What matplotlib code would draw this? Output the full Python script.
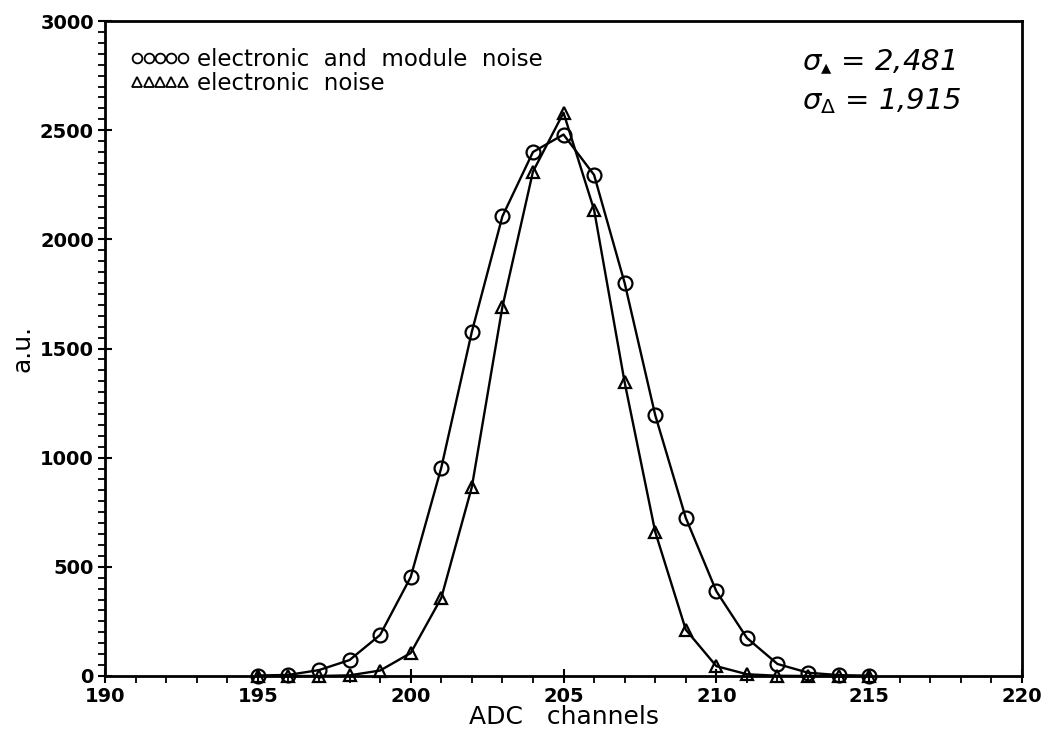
import numpy as np
import matplotlib
matplotlib.use('Agg')
import matplotlib.pyplot as plt
from matplotlib.lines import Line2D
from matplotlib.ticker import MultipleLocator

# data
channels = [195, 196, 197, 198, 199, 200, 201, 202, 203, 204, 205,
            206, 207, 208, 209, 210, 211, 212, 213, 214, 215]
module_noise = [2, 5, 27, 73, 188, 453, 953, 1576, 2105, 2400, 2480,
                2295, 1800, 1195, 724, 388, 174, 55, 15, 4, 1]
elec_noise = [0, 0, 0, 3, 25, 105, 357, 865, 1690, 2310, 2580,
              2135, 1345, 660, 212, 45, 8, 1, 0, 0, 0]
sigma_labels = [r'$\sigma_{\blacktriangle}$ = 2,481', r'$\sigma_{\Delta}$ = 1,915']

plt.rcParams['font.family'] = ['DejaVu Sans']

fig = plt.figure(figsize=(10.53, 7.40), dpi=100)
ax = fig.add_axes([0.0997, 0.0865, 0.8709, 0.8851])

ax.plot(channels, module_noise, color='black', lw=1.7, marker='o', ms=10,
        mfc='none', mec='black', mew=1.6, clip_on=False)
ax.plot(channels, elec_noise, color='black', lw=1.7, marker='^', ms=9,
        mfc='none', mec='black', mew=1.6, clip_on=False)

ax.set_xlim(190, 220)
ax.set_ylim(0, 3000)
ax.xaxis.set_major_locator(MultipleLocator(5))
ax.xaxis.set_minor_locator(MultipleLocator(1))
ax.yaxis.set_major_locator(MultipleLocator(500))
ax.yaxis.set_minor_locator(MultipleLocator(50))
ax.tick_params(which='major', direction='inout', length=10, width=1.5,
               labelsize=14, top=False, right=False)
ax.tick_params(axis='x', which='major', pad=3)
ax.tick_params(axis='y', which='major', pad=3)
ax.tick_params(which='minor', direction='out', length=5, width=1.3,
               top=False, right=False)
for lab in ax.get_xticklabels() + ax.get_yticklabels():
    lab.set_fontweight('bold')
for s in ax.spines.values():
    s.set_linewidth(2)

ax.set_xlabel('ADC   channels', fontsize=18, labelpad=-1)
ax.set_ylabel('a.u.', fontsize=18, labelpad=4)

h1 = Line2D([], [], ls='none', marker='o', ms=7, mfc='none', mec='black', mew=1.3)
h2 = Line2D([], [], ls='none', marker='^', ms=7, mfc='none', mec='black', mew=1.3)
ax.legend([h1, h2], ['electronic  and  module  noise', 'electronic  noise'],
          loc='upper left', bbox_to_anchor=(0.005, 0.99), frameon=False,
          numpoints=5, handlelength=2.6, handletextpad=0.3, labelspacing=0.05,
          fontsize=16.5, markerscale=1.0)

for i, t in enumerate(sigma_labels):
    ax.text(0.76, 0.96 - i * 0.06, t, transform=ax.transAxes, fontsize=21,
            style='italic', va='top', ha='left')

fig.savefig('out.png', dpi=100)
